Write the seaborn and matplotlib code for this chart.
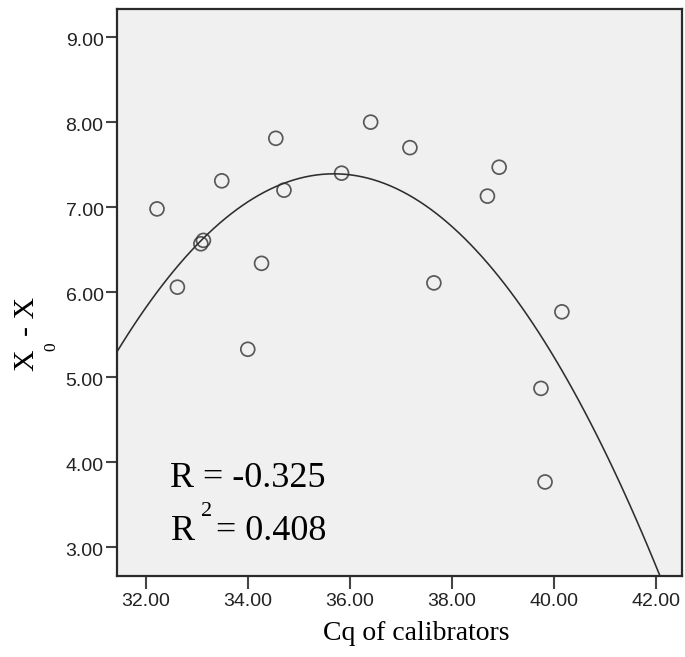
import numpy as np
import pandas as pd
import seaborn as sns
import matplotlib
matplotlib.use("Agg")
import matplotlib.pyplot as plt
from matplotlib.transforms import ScaledTranslation

# Calibrator Cq values and the corresponding X0 - X differences
cq_values = [32.22, 32.62, 33.08, 33.13, 33.49, 34.00, 34.27, 34.55, 34.71,
             35.84, 36.41, 37.18, 37.65, 38.70, 38.93, 39.75, 39.83, 40.16]
diff_values = [6.98, 6.06, 6.57, 6.61, 7.31, 5.33, 6.34, 7.81, 7.20,
               7.40, 8.00, 7.70, 6.11, 7.13, 7.47, 4.87, 3.77, 5.77]

x_ticks = [32, 34, 36, 38, 40, 42]
y_ticks = [3, 4, 5, 6, 7, 8, 9]
r_value = "-0.325"
r2_value = "0.408"
x_title = "Cq of calibrators"

df = pd.DataFrame({"cq": cq_values, "diff": diff_values})

sns.set_theme(style="white")
plt.rcParams["font.family"] = ["Liberation Sans", "DejaVu Sans"]
SERIF = "Liberation Serif"

W, H = 685, 657
fig = plt.figure(figsize=(W / 100, H / 100), dpi=100)


def px(x, y):
    """Pixel position (from the top-left corner) to figure fraction."""
    return x / W, 1 - y / H


ax = fig.add_axes([0.1704, 0.124, 0.8248, 0.8623])
ax.set_facecolor("#f0f0f0")
ax.set_xlim(31.43, 42.51)
ax.set_ylim(2.67, 9.33)

# scatter of the calibrators with a quadratic least-squares fit
sns.regplot(data=df, x="cq", y="diff", order=2, ci=None, truncate=False,
            ax=ax,
            scatter_kws=dict(s=100, facecolors="none", edgecolors="#333333",
                             linewidths=1.25),
            line_kws=dict(color="#2e2e2e", linewidth=1.15))

ax.set_xlim(31.43, 42.51)
ax.set_ylim(2.67, 9.33)
ax.set_xticks(x_ticks)
ax.set_xticklabels([f"{v:.2f}" for v in x_ticks])
ax.set_yticks(y_ticks)
ax.set_yticklabels([f"{v:.2f}" for v in y_ticks])
ax.tick_params(axis="x", length=9.5, width=1.5, color="#444444", pad=3,
               labelsize=14, labelcolor="#222222", bottom=True)
ax.tick_params(axis="y", length=8, width=1.5, color="#444444", pad=1.5,
               labelsize=14, labelcolor="#222222", left=True)
shift = ScaledTranslation(0, -0.025, fig.dpi_scale_trans)
for lab in ax.get_yticklabels():
    lab.set_transform(lab.get_transform() + shift)
for sp in ax.spines.values():
    sp.set_color("#2a2a2a")
    sp.set_linewidth(1.6)

ax.set_xlabel("")
ax.set_ylabel("")

# axis titles
fig.text(*px(416, 634), x_title, ha="center", va="center",
         fontsize=20, family=SERIF, color="black")
ylab = dict(rotation=90, rotation_mode="anchor", ha="left", va="baseline",
            family=SERIF, color="black")
fig.text(*px(33.5, 371), "X", fontsize=21.5, **ylab)
fig.text(*px(55.5, 351), "0", fontsize=12.5, **ylab)
fig.text(*px(33.5, 336), "- X", fontsize=21.5, **ylab)

# fit statistics
stat = dict(ha="left", va="baseline", family=SERIF, color="black")
fig.text(*px(170.5, 487), f"R = {r_value}", fontsize=26, **stat)
fig.text(*px(170.5, 540), "R", fontsize=26, **stat)
fig.text(*px(201, 516.5), "2", fontsize=16, **stat)
fig.text(*px(216.5, 540), f"= {r2_value}", fontsize=26, **stat)

fig.savefig("out.png", dpi=100, facecolor="white")
